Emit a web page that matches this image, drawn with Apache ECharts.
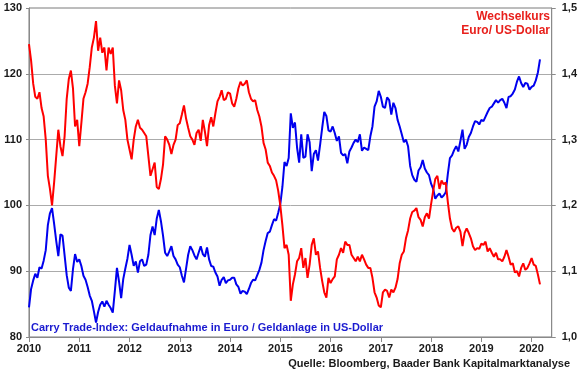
<!DOCTYPE html>
<html>
<head>
<meta charset="utf-8">
<script src="https://cdn.jsdelivr.net/npm/echarts@6/dist/echarts.min.js"></script>
<style>
html,body{margin:0;padding:0;background:#fff;}
#chart{width:580px;height:375px;}
</style>
</head>
<body>
<div id="chart"></div>
<script>
// Half-monthly observations starting January 2010 (24 per year)
const startYear = 2010;
const stepsPerYear = 24;

// Carry Trade-Index (left axis)
const carryIndex = [
  84.5, 87.3, 88.6, 89.6, 89.0, 90.6, 90.4, 91.6, 93.2, 97.0, 98.8, 99.6, 97.2, 94.6, 92.3, 95.6, 95.4, 92.4, 89.4, 87.5, 87.0, 90.3, 92.6, 91.4,
  91.8, 90.8, 89.3, 88.7, 87.6, 86.3, 85.5, 83.9, 82.2, 83.8, 84.9, 85.4, 84.6, 85.5, 84.9, 84.4, 83.7, 87.0, 90.5, 88.4, 85.9, 88.8, 90.4, 91.9,
  94.0, 92.5, 90.8, 91.5, 89.8, 91.5, 91.8, 90.8, 91.0, 92.5, 95.5, 96.8, 95.5, 98.0, 99.3, 97.6, 95.4, 92.8, 92.3, 93.0, 93.8, 92.3, 91.8, 91.0,
  90.6, 89.3, 88.3, 90.4, 92.5, 93.8, 93.2, 92.4, 91.8, 92.8, 93.8, 92.6, 92.2, 93.6, 91.8, 90.8, 90.7, 89.8, 89.2, 87.8, 88.7, 89.1, 88.2, 88.6,
  88.7, 89.0, 89.0, 88.0, 87.6, 86.6, 87.0, 86.9, 86.5, 87.3, 88.2, 88.7, 88.6, 89.4, 90.2, 91.3, 93.2, 94.6, 95.8, 96.0, 97.0, 97.9, 97.7, 98.9,
  100.2, 102.8, 106.6, 106.0, 107.2, 114.0, 111.8, 112.6, 108.8, 106.5, 110.8, 107.2, 107.4, 110.8, 109.6, 105.2, 107.8, 108.4, 106.8, 109.2, 111.8, 114.2, 113.6, 111.4,
  111.2, 112.0, 111.0, 109.8, 110.5, 108.0, 107.6, 107.8, 106.4, 108.2, 108.8, 109.5, 110.0, 109.6, 110.8, 108.3, 108.8, 108.6, 108.4, 110.5, 112.0, 115.0, 115.8, 117.4,
  116.5, 115.0, 114.8, 116.4, 116.0, 113.8, 115.6, 114.8, 113.0, 112.0, 110.8, 109.6, 110.0, 109.0, 106.0, 104.6, 103.9, 103.6, 105.3, 105.8, 106.9, 105.6, 105.0, 104.6,
  103.3, 102.5, 101.0, 101.5, 101.8, 101.2, 101.5, 102.0, 104.8, 107.2, 107.6, 108.4, 109.0, 108.2, 109.8, 111.5, 108.6, 109.2, 110.4, 111.0, 112.0, 112.8, 112.7, 112.3,
  113.0, 112.8, 113.5, 114.2, 114.8, 115.0, 115.5, 116.0, 115.6, 116.0, 116.2, 115.6, 114.8, 116.5, 116.6, 117.0, 117.6, 118.8, 119.6, 118.6, 118.0, 118.6, 118.5, 117.6,
  118.0, 118.2, 119.0, 120.2, 122.2
];

// Wechselkurs Euro/US-Dollar (right axis)
const eurUsd = [
  1.445, 1.420, 1.385, 1.365, 1.362, 1.372, 1.348, 1.335, 1.300, 1.245, 1.225, 1.200, 1.235, 1.275, 1.315, 1.290, 1.275, 1.305, 1.362, 1.392, 1.405, 1.378, 1.320, 1.330,
  1.290, 1.325, 1.362, 1.372, 1.385, 1.410, 1.440, 1.455, 1.480, 1.435, 1.455, 1.432, 1.440, 1.405, 1.440, 1.430, 1.440, 1.382, 1.355, 1.390, 1.375, 1.345, 1.330, 1.300,
  1.285, 1.270, 1.300, 1.320, 1.330, 1.318, 1.315, 1.310, 1.305, 1.275, 1.245, 1.255, 1.265, 1.228, 1.225, 1.240, 1.262, 1.305, 1.300, 1.292, 1.278, 1.292, 1.300, 1.322,
  1.325, 1.338, 1.352, 1.332, 1.318, 1.305, 1.300, 1.292, 1.310, 1.315, 1.298, 1.330, 1.312, 1.290, 1.322, 1.334, 1.320, 1.340, 1.358, 1.365, 1.375, 1.360, 1.362, 1.372,
  1.370, 1.355, 1.350, 1.362, 1.378, 1.388, 1.382, 1.385, 1.390, 1.372, 1.362, 1.358, 1.360, 1.345, 1.335, 1.320, 1.295, 1.285, 1.265, 1.260, 1.250, 1.245, 1.238, 1.222,
  1.200, 1.170, 1.135, 1.140, 1.125, 1.055, 1.080, 1.095, 1.115, 1.120, 1.135, 1.105, 1.120, 1.090, 1.110, 1.140, 1.150, 1.125, 1.130, 1.105, 1.085, 1.068, 1.060, 1.090,
  1.082, 1.088, 1.092, 1.118, 1.125, 1.135, 1.128, 1.145, 1.140, 1.140, 1.125, 1.120, 1.115, 1.122, 1.115, 1.125, 1.118, 1.110, 1.105, 1.105, 1.090, 1.068, 1.060, 1.048,
  1.045, 1.068, 1.072, 1.070, 1.060, 1.072, 1.068, 1.075, 1.088, 1.112, 1.125, 1.130, 1.150, 1.162, 1.180, 1.190, 1.192, 1.196, 1.182, 1.178, 1.168, 1.182, 1.188, 1.180,
  1.202, 1.222, 1.240, 1.245, 1.225, 1.238, 1.232, 1.235, 1.205, 1.180, 1.165, 1.160, 1.166, 1.168, 1.160, 1.138, 1.158, 1.165, 1.158, 1.150, 1.138, 1.132, 1.135, 1.134,
  1.142, 1.140, 1.145, 1.130, 1.135, 1.128, 1.122, 1.128, 1.118, 1.118, 1.115, 1.122, 1.132, 1.122, 1.110, 1.112, 1.098, 1.100, 1.092, 1.105, 1.112, 1.102, 1.105, 1.112,
  1.120, 1.110, 1.108, 1.095, 1.080
];

const leftTicks = { min: 80, max: 130, step: 10 };
const rightTicks = { min: 1.0, max: 1.5, step: 0.1 };
const xRange = { min: 2010, max: 2020.4, step: 1 };

const labelRed = ['Wechselkurs', 'Euro/ US-Dollar'];
const labelBlue = 'Carry Trade-Index: Geldaufnahme in Euro / Geldanlage in US-Dollar';
const sourceText = 'Quelle: Bloomberg, Baader Bank Kapitalmarktanalyse';

const toXY = arr => arr.map((v, i) => [startYear + i / stepsPerYear, v]);

const FONT = '"Liberation Sans", Arial, sans-serif';
const chart = echarts.init(document.getElementById('chart'), null, { renderer: 'canvas' });

chart.setOption({
  animation: false,
  backgroundColor: '#ffffff',
  textStyle: { fontFamily: FONT },
  grid: {
    left: 29, right: 27, top: 8, bottom: 38,
    show: true, borderColor: '#7a7a7a', borderWidth: 1, backgroundColor: 'transparent'
  },
  xAxis: {
    type: 'value',
    min: xRange.min, max: xRange.max, interval: xRange.step,
    axisLine: { show: true, lineStyle: { color: '#8a8a8a', width: 1 } },
    axisTick: { show: true, length: 5, lineStyle: { color: '#8a8a8a' } },
    splitLine: { show: false },
    axisLabel: {
      color: '#1a1a1a', fontWeight: 'bold', fontSize: 11, fontFamily: FONT, margin: 6,
      showMaxLabel: false,
      formatter: v => (Math.abs(v - Math.round(v)) < 1e-6 ? String(Math.round(v)) : '')
    }
  },
  yAxis: [
    {
      type: 'value', position: 'left',
      min: leftTicks.min, max: leftTicks.max, interval: leftTicks.step,
      axisLine: { show: true, lineStyle: { color: '#8a8a8a' } },
      axisTick: { show: true, length: 3, lineStyle: { color: '#8a8a8a' } },
      splitLine: { show: true, showMinLine: false, showMaxLine: false, lineStyle: { color: '#ababab', width: 1 } },
      axisLabel: { color: '#1a1a1a', fontWeight: 'bold', fontSize: 11, fontFamily: FONT, margin: 7 }
    },
    {
      type: 'value', position: 'right',
      min: rightTicks.min, max: rightTicks.max, interval: rightTicks.step,
      axisLine: { show: true, lineStyle: { color: '#8a8a8a' } },
      axisTick: { show: true, length: 4, lineStyle: { color: '#8a8a8a' } },
      splitLine: { show: false },
      axisLabel: {
        color: '#1a1a1a', fontWeight: 'bold', fontSize: 11, fontFamily: FONT, margin: 10,
        formatter: v => v.toFixed(1).replace('.', ',')
      }
    }
  ],
  series: [
    {
      name: 'Carry Trade-Index', type: 'line', yAxisIndex: 0,
      data: toXY(carryIndex), showSymbol: false, symbol: 'none',
      lineStyle: { color: '#0000ee', width: 2 }, z: 2
    },
    {
      name: 'Euro/US-Dollar', type: 'line', yAxisIndex: 1,
      data: toXY(eurUsd), showSymbol: false, symbol: 'none',
      lineStyle: { color: '#ff0000', width: 2 }, z: 3
    }
  ],
  graphic: [
    { type: 'text', right: 30, top: 11, style: { text: labelRed[0], fill: '#e8201c', font: 'bold 12px ' + FONT, textAlign: 'right' } },
    { type: 'text', right: 30, top: 25, style: { text: labelRed[1], fill: '#e8201c', font: 'bold 12px ' + FONT, textAlign: 'right' } },
    { type: 'text', left: 31, top: 322, style: { text: labelBlue, fill: '#1a1ad0', font: 'bold 11px ' + FONT } },
    { type: 'text', right: 10, top: 358, style: { text: sourceText, fill: '#1a1a1a', font: 'bold 11px ' + FONT } }
  ]
});
</script>
</body>
</html>
